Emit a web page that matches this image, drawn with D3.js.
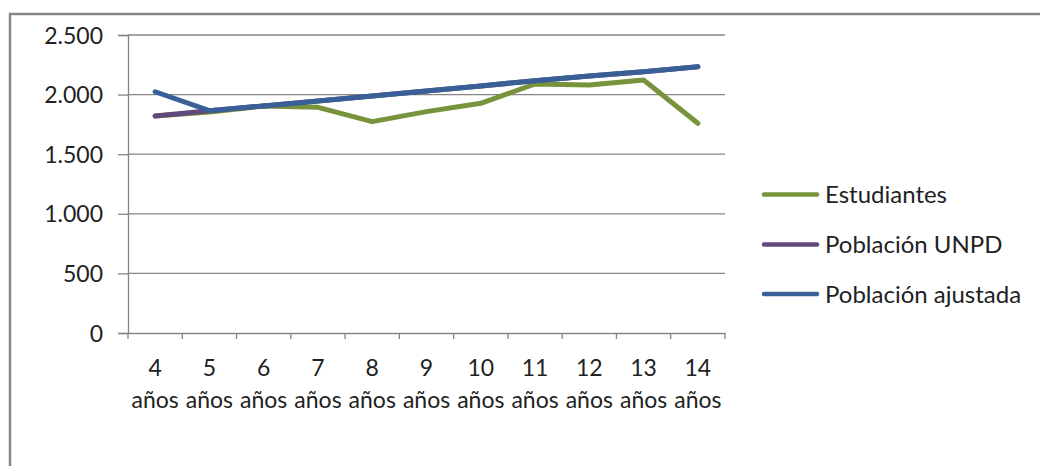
<!DOCTYPE html>
<html>
<head>
<meta charset="utf-8">
<script src="https://cdn.jsdelivr.net/npm/d3@7"></script>
<style>
  html, body { margin: 0; padding: 0; background: #fff; }
  svg { display: block; font-family: Lato, "Open Sans", sans-serif; }
</style>
</head>
<body>
<svg id="chart" width="1040" height="466"></svg>
<script>
// ---- data ----
const categories = ["4", "5", "6", "7", "8", "9", "10", "11", "12", "13", "14"];
const unitLabel = "años";
const estudiantes = [1820, 1854, 1904, 1893, 1773, 1857, 1927, 2089, 2080, 2122, 1759];
const poblacionUNPD = [1820, 1865, 1905, 1946, 1988, 2030, 2072, 2117, 2156, 2192, 2234];
const poblacionAjustada = [2024, 1865, 1905, 1946, 1988, 2030, 2072, 2117, 2156, 2192, 2234];
const seriesNames = ["Estudiantes", "Población UNPD", "Población ajustada"];
const seriesColors = ["#77933C", "#604A7B", "#386097"];
const yTicks = [0, 500, 1000, 1500, 2000, 2500];

const series = [estudiantes, poblacionUNPD, poblacionAjustada].map((vals, i) => ({
  name: seriesNames[i], color: seriesColors[i], values: vals
}));

// ---- layout ----
const svg = d3.select("#chart");
const plotLeft = 128, plotRight = 725, plotTop = 35, plotBottom = 333;

// frame
svg.append("rect")
  .attr("x", 10).attr("y", 14)
  .attr("width", 1060).attr("height", 500)
  .attr("fill", "none").attr("stroke", "#868686").attr("stroke-width", 2.5);

const x = d3.scaleBand().domain(categories).range([plotLeft, plotRight]).padding(0);
const y = d3.scaleLinear().domain([0, 2500]).range([plotBottom, plotTop]);

const locale = d3.formatLocale({ decimal: ",", thousands: ".", grouping: [3], currency: ["", "€"] });
const fmt = locale.format(",d");

// gridlines
svg.append("g")
  .selectAll("line").data(yTicks.filter(d => d > 0)).join("line")
  .attr("x1", plotLeft).attr("x2", plotRight)
  .attr("y1", d => y(d)).attr("y2", d => y(d))
  .attr("stroke", "#868686").attr("stroke-width", 1.3);

// y axis
const yAxis = svg.append("g")
  .attr("transform", `translate(${plotLeft},0)`)
  .call(d3.axisLeft(y).tickValues(yTicks).tickFormat(fmt).tickSizeOuter(0).tickSize(10).tickPadding(15));
yAxis.select(".domain").attr("stroke", "#868686").attr("stroke-width", 1.3);
yAxis.selectAll(".tick line").attr("stroke", "#868686").attr("stroke-width", 1.3);
yAxis.selectAll(".tick text")
  .attr("fill", "#222").attr("font-size", 23).attr("font-family", "Lato, 'Open Sans', sans-serif")
  .attr("dy", null).attr("y", 8);

// x axis
const xAxis = svg.append("g")
  .attr("transform", `translate(0,${plotBottom})`)
  .call(d3.axisBottom(x).tickSize(0).tickSizeOuter(0).tickFormat(""));
xAxis.select(".domain").attr("stroke", "#868686").attr("stroke-width", 1.3);
xAxis.selectAll(".tick line").remove();
// category boundary tick marks
const bounds = categories.map(c => x(c)).concat([x(categories[categories.length - 1]) + x.bandwidth()]);
xAxis.append("g").selectAll("line").data(bounds).join("line")
  .attr("x1", d => d).attr("x2", d => d).attr("y1", 0).attr("y2", 6)
  .attr("stroke", "#868686").attr("stroke-width", 1.3);
xAxis.selectAll(".tick").each(function(d) {
  const t = d3.select(this).select("text");
  t.attr("y", null).attr("dy", null).text(null)
    .attr("fill", "#222").attr("font-size", 23).attr("text-anchor", "middle")
    .attr("font-family", "Lato, 'Open Sans', sans-serif");
  t.append("tspan").attr("x", 0).attr("y", 43).text(d);
  t.append("tspan").attr("x", 0).attr("y", 75).text(unitLabel);
});

// lines
const line = d3.line()
  .x((d, i) => x(categories[i]) + x.bandwidth() / 2)
  .y(d => y(d));

svg.append("g").selectAll("path").data(series).join("path")
  .attr("d", d => line(d.values))
  .attr("fill", "none")
  .attr("stroke", d => d.color)
  .attr("stroke-width", 5)
  .attr("stroke-linejoin", "round")
  .attr("stroke-linecap", "round");

// legend
const legend = svg.append("g");
const legendY = [194.5, 244.5, 294];
const items = legend.selectAll("g").data(series).join("g")
  .attr("transform", (d, i) => `translate(0,${legendY[i]})`);
items.append("line")
  .attr("x1", 764).attr("x2", 817).attr("y1", 0).attr("y2", 0)
  .attr("stroke", d => d.color).attr("stroke-width", 4.5).attr("stroke-linecap", "round");
items.append("text")
  .attr("x", 825).attr("y", 8.5)
  .attr("font-size", 24).attr("fill", "#222")
  .text(d => d.name);
</script>
</body>
</html>
